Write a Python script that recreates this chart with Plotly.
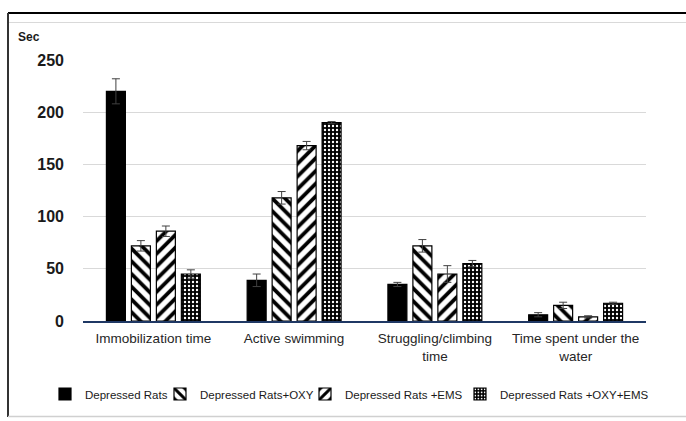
import plotly.graph_objects as go

# Forced swim test parameters (seconds), mean ± error
categories = ["Immobilization time", "Active swimming",
              "Struggling/climbing<br>time", "Time spent under the<br>water"]
series_names = ["Depressed Rats", "Depressed Rats+OXY",
                "Depressed Rats +EMS", "Depressed Rats +OXY+EMS"]

depressed = [220, 39, 35, 6]
depressed_err = [12, 6, 2, 2]
oxy = [72, 118, 72, 15]
oxy_err = [5, 6, 6, 3]
ems = [86, 168, 45, 4]
ems_err = [5, 4, 8, 1]
oxy_ems = [45, 190, 55, 17]
oxy_ems_err = [4, 1, 3, 1]

y_ticks = [0, 50, 100, 150, 200, 250]

values = [depressed, oxy, ems, oxy_ems]
errors = [depressed_err, oxy_err, ems_err, oxy_ems_err]
patterns = [
    dict(shape=""),
    dict(shape="\\", fgcolor="black", bgcolor="white", size=9, solidity=0.42, fillmode="replace"),
    dict(shape="/", fgcolor="black", bgcolor="white", size=9, solidity=0.42, fillmode="replace"),
    dict(shape=".", fgcolor="white", bgcolor="black", size=4, solidity=0.28, fillmode="replace"),
]
fills = ["black", "white", "white", "black"]

W, H = 686, 421
L, R, T, B = 83, 40, 60, 100
pw, ph = W - L - R, H - T - B


def px(x):
    return (x - L) / pw


def py(y):
    return (H - B - y) / ph


# one legend per series so each entry sits at its own spot along the bottom row
legend_ids = ["legend", "legend2", "legend3", "legend4"]
legend_left_x = [45, 160, 305, 460]

fig = go.Figure()
for name, vals, errs, pat, fill, lg in zip(series_names, values, errors, patterns, fills, legend_ids):
    fig.add_trace(go.Bar(
        name=name, x=categories, y=vals, legend=lg,
        marker=dict(color=fill, pattern=pat, line=dict(color="black", width=1.2)),
        error_y=dict(type="data", array=errs, color="#404040", thickness=1, width=4),
    ))

frame = [
    dict(x0=px(8), x1=px(686), y0=py(13), y1=py(13), color="black", width=2),
    dict(x0=px(8), x1=px(686), y0=py(22.5), y1=py(22.5), color="#d9d9d9", width=1),
    dict(x0=px(8), x1=px(8), y0=py(13), y1=py(417), color="#333333", width=2),
    dict(x0=px(8), x1=px(686), y0=py(416.5), y1=py(416.5), color="#d0d0d0", width=1.5),
]
shapes = [dict(type="line", xref="paper", yref="paper", x0=f["x0"], x1=f["x1"],
               y0=f["y0"], y1=f["y1"], line=dict(color=f["color"], width=f["width"]))
          for f in frame]

legend_style = dict(
    orientation="h", xanchor="left", yanchor="middle", y=py(394),
    font=dict(size=11.5, family="Liberation Sans, Arial", color="#1a1a1a"),
    itemwidth=30, bgcolor="rgba(0,0,0,0)",
)

fig.update_layout(
    width=W, height=H,
    margin=dict(l=L, r=R, t=T, b=B, autoexpand=False),
    paper_bgcolor="white", plot_bgcolor="white",
    barmode="group", bargap=0.29, bargroupgap=0.24,
    font=dict(family="Liberation Sans, Arial", color="#1a1a1a"),
    xaxis=dict(
        showgrid=False, showline=True, linecolor="#1f3864", linewidth=1.5,
        tickfont=dict(size=13.5, family="Liberation Sans, Arial", color="#262626"),
        ticks="", ticklabelstandoff=4,
    ),
    yaxis=dict(
        range=[0, 250], tickvals=y_ticks, showline=False, zeroline=False,
        gridcolor="#d9d9d9", gridwidth=1.3,
        tickfont=dict(size=16, family="Liberation Sans, Arial", color="#1a1a1a", weight="bold"),
        ticklabelstandoff=18,
    ),
    showlegend=True,
    shapes=shapes,
    annotations=[dict(
        text="<b>Sec</b>", xref="paper", yref="paper", x=px(16), y=py(37),
        xanchor="left", yanchor="middle", showarrow=False,
        font=dict(size=12, family="Liberation Sans, Arial", color="#1a1a1a"),
    )],
)
for lg, lx in zip(legend_ids, legend_left_x):
    fig.update_layout({lg: dict(legend_style, x=px(lx))})

fig.write_html("out.html")
